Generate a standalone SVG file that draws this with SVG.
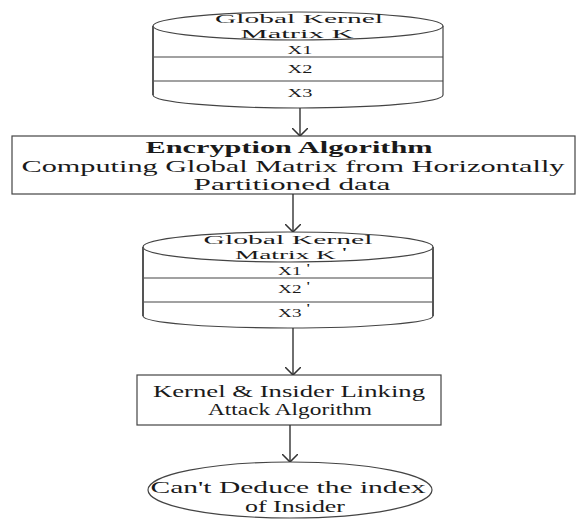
<svg xmlns="http://www.w3.org/2000/svg" width="578" height="520" viewBox="0 0 578 520">
  <defs>
    <marker id="arrow" viewBox="0 0 10 10" refX="10" refY="5" markerUnits="userSpaceOnUse" markerWidth="8" markerHeight="16" orient="auto" preserveAspectRatio="none">
      <path d="M0,0 L10,5 L0,10" fill="none" stroke="#333" stroke-width="1.2"/>
    </marker>
  </defs>
  <style>
    .shape { fill: #fff; stroke: #444; stroke-width: 1.2; }
    .line { fill: none; stroke: #444; stroke-width: 1.2; }
    .side { fill: none; stroke: #555; stroke-width: 2; }
    .conn { fill: none; stroke: #333; stroke-width: 1.4; marker-end: url(#arrow); }
    text { font-family: "Liberation Serif", "Times New Roman", serif; fill: #1a1a1a; text-anchor: middle; }
    .cyl { font-size: 13px; }
    .row { font-size: 11.5px; }
    .box { font-size: 17px; }
    .bold { font-weight: bold; font-size: 16.5px; }
  </style>
  <rect width="578" height="520" fill="#fff"/>

  <!-- Cylinder: Global Kernel Matrix K -->
  <g id="matrix-k">
    <path class="shape" d="M153,26 L153,95 A145,13 0 0 0 443,95 L443,26"/>
    <ellipse class="shape" cx="298" cy="26" rx="145" ry="14"/>
    <line class="line" x1="153" y1="57" x2="443" y2="57"/>
    <line class="line" x1="153" y1="81" x2="443" y2="81"/>
    <line class="side" x1="153" y1="26" x2="153" y2="95"/>
    <text class="cyl" x="299" y="23" textLength="168" lengthAdjust="spacingAndGlyphs">Global Kernel</text>
    <text class="cyl" x="297" y="37.5" textLength="113" lengthAdjust="spacingAndGlyphs">Matrix K</text>
    <text class="row" x="300" y="54" textLength="25" lengthAdjust="spacingAndGlyphs">X1</text>
    <text class="row" x="300" y="73" textLength="25" lengthAdjust="spacingAndGlyphs">X2</text>
    <text class="row" x="300" y="97" textLength="25" lengthAdjust="spacingAndGlyphs">X3</text>
  </g>

  <!-- Encryption step -->
  <g id="encryption">
    <rect class="shape" x="12" y="136" width="563" height="58"/>
    <text class="bold" x="289" y="153" textLength="287" lengthAdjust="spacingAndGlyphs">Encryption Algorithm</text>
    <text class="box" x="293" y="172" textLength="543" lengthAdjust="spacingAndGlyphs">Computing Global Matrix from Horizontally</text>
    <text class="box" x="292" y="190" textLength="197" lengthAdjust="spacingAndGlyphs">Partitioned data</text>
  </g>

  <!-- Cylinder: Global Kernel Matrix K' -->
  <g id="matrix-k-prime">
    <path class="shape" d="M143,247 L143,316 A145,12 0 0 0 433,316 L433,247"/>
    <ellipse class="shape" cx="288" cy="247" rx="145" ry="15"/>
    <line class="line" x1="143" y1="278" x2="433" y2="278"/>
    <line class="line" x1="143" y1="302" x2="433" y2="302"/>
    <line class="side" x1="143" y1="247" x2="143" y2="316"/>
    <line class="side" x1="433" y1="247" x2="433" y2="316"/>
    <text class="cyl" x="288" y="244" textLength="169" lengthAdjust="spacingAndGlyphs">Global Kernel</text>
    <text class="cyl" x="291" y="258.5" textLength="112" lengthAdjust="spacingAndGlyphs">Matrix K<tspan dx="3" dy="-3">'</tspan></text>
    <text class="row" x="294" y="275" textLength="32" lengthAdjust="spacingAndGlyphs">X1<tspan dx="3" dy="-3">'</tspan></text>
    <text class="row" x="294" y="293" textLength="32" lengthAdjust="spacingAndGlyphs">X2<tspan dx="3" dy="-3">'</tspan></text>
    <text class="row" x="294" y="317" textLength="32" lengthAdjust="spacingAndGlyphs">X3<tspan dx="3" dy="-5">'</tspan></text>
  </g>

  <!-- Attack step -->
  <g id="attack">
    <rect class="shape" x="137" y="375" width="304" height="50"/>
    <text class="box" x="289" y="397" textLength="272" lengthAdjust="spacingAndGlyphs">Kernel &amp; Insider Linking</text>
    <text class="box" x="290" y="415" textLength="164" lengthAdjust="spacingAndGlyphs">Attack Algorithm</text>
  </g>

  <!-- Outcome -->
  <g id="outcome">
    <ellipse class="shape" cx="290" cy="490" rx="142" ry="28"/>
    <text class="box" x="288" y="493" textLength="275" lengthAdjust="spacingAndGlyphs">Can't Deduce the index</text>
    <text class="box" x="295" y="512" textLength="100" lengthAdjust="spacingAndGlyphs">of Insider</text>
  </g>

  <!-- Connectors -->
  <g id="connectors">
    <line class="conn" x1="300" y1="108" x2="300" y2="136"/>
    <line class="conn" x1="293" y1="194" x2="293" y2="232"/>
    <line class="conn" x1="293" y1="328" x2="293" y2="375"/>
    <line class="conn" x1="290" y1="425" x2="290" y2="462"/>
  </g>
</svg>
